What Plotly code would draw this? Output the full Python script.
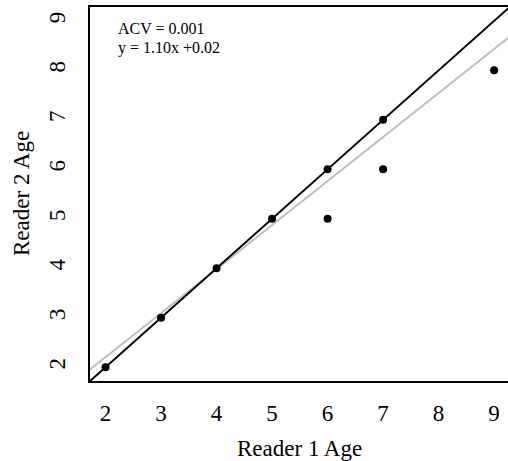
import plotly.graph_objects as go

# Data
reader1_age = [2, 3, 4, 5, 6, 6, 7, 7, 9]
reader2_age = [2, 3, 4, 5, 6, 5, 7, 6, 8]
tick_values = [2, 3, 4, 5, 6, 7, 8, 9]
tick_labels = ["2", "3", "4", "5", "6", "7", "8", "9"]
fit_slope = 0.89
fit_intercept = 0.42
acv_text = "ACV = 0.001"
eq_text = "y = 1.10x +0.02"

x_range = [1.72, 9.25]
y_range = [1.72, 9.28]

FONT = "Liberation Serif"

fig = go.Figure()

# Grey fitted line
fit_x = list(x_range)
fit_y = [fit_intercept + fit_slope * v for v in fit_x]
fig.add_trace(go.Scatter(x=fit_x, y=fit_y, mode="lines",
                         line=dict(color="#bebebe", width=2), hoverinfo="skip"))
# 1:1 line
one_x = [x_range[0], 9.28]
fig.add_trace(go.Scatter(x=one_x, y=one_x, mode="lines",
                         line=dict(color="black", width=2), hoverinfo="skip"))
# Points
fig.add_trace(go.Scatter(x=reader1_age, y=reader2_age, mode="markers",
                         marker=dict(color="black", size=8)))

fig.update_layout(
    width=508, height=461,
    margin=dict(l=90, r=0, t=7, b=80),
    paper_bgcolor="white", plot_bgcolor="white",
    showlegend=False,
    font=dict(family=FONT, color="black", size=23),
    xaxis=dict(range=x_range, tickvals=tick_values, ticktext=tick_labels,
               showgrid=False, zeroline=False, showline=True, linecolor="black",
               linewidth=1.5, mirror=True, ticks="outside", ticklen=11,
               tickcolor="rgba(0,0,0,0)", tickfont=dict(family=FONT, size=23)),
    yaxis=dict(range=y_range, tickvals=tick_values, ticktext=tick_labels,
               showgrid=False, zeroline=False, showline=True, linecolor="black",
               linewidth=1.5, mirror=False, ticks="outside", ticklen=14,
               tickangle=-90,
               tickcolor="rgba(0,0,0,0)", tickfont=dict(family=FONT, size=23)),
    annotations=[
        dict(text=acv_text, xref="paper", yref="paper", x=0, y=1,
             xanchor="left", yanchor="middle", xshift=26, yshift=-21,
             showarrow=False, font=dict(family=FONT, size=16)),
        dict(text=eq_text, xref="paper", yref="paper", x=0, y=1,
             xanchor="left", yanchor="middle", xshift=26, yshift=-41,
             showarrow=False, font=dict(family=FONT, size=16)),
        dict(text="Reader 1 Age", xref="paper", yref="paper", x=0.5, y=0,
             xanchor="center", yanchor="middle", yshift=-67,
             showarrow=False, font=dict(family=FONT, size=23)),
        dict(text="Reader 2 Age", xref="paper", yref="paper", x=0, y=0.5,
             xanchor="center", yanchor="middle", xshift=-69, textangle=-90,
             showarrow=False, font=dict(family=FONT, size=23)),
    ],
)

fig.write_html("out.html", config={"displayModeBar": False},
               post_script="document.body.style.margin='0';")
